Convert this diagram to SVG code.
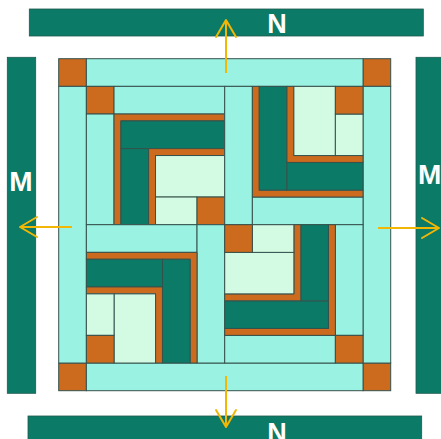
<svg xmlns="http://www.w3.org/2000/svg" xmlns:xlink="http://www.w3.org/1999/xlink" width="441" height="439" viewBox="0 0 441 439">
<style>
.c{fill:#9af2e2;stroke:#35524c;stroke-width:1}
.b{fill:#cc6a1e;stroke:#35524c;stroke-width:1}
.t{fill:#0b7a67;stroke:#35524c;stroke-width:1}
.m{fill:#d3fbe3;stroke:#35524c;stroke-width:1}
.strip{fill:#0b7a67;stroke:#1f5a4f;stroke-width:0.8}
.lbl{font-family:"Liberation Sans",Arial,sans-serif;font-weight:bold;fill:#ffffff}
.arr{stroke:#f2b705;stroke-width:2;fill:none;marker-end:url(#ah)}
</style>
<defs>
<marker id="ah" markerUnits="userSpaceOnUse" viewBox="-20 -12 22 24" markerWidth="22" markerHeight="24" refX="0" refY="0" orient="auto" overflow="visible">
<path d="M-17,-10 L0,0 L-17,10" fill="none" stroke="#f2b705" stroke-width="2" stroke-linecap="round" stroke-linejoin="round"/>
</marker>
<g id="cabin">
<polygon class="b" points="0,0 110.67,0 110.67,6.9 6.9,6.9 6.9,110.67 0,110.67"/>
<rect class="t" x="6.9" y="6.9" width="103.77" height="27.68"/>
<rect class="t" x="6.9" y="34.58" width="27.68" height="76.09"/>
<polygon class="b" points="34.58,34.58 110.67,34.58 110.67,41.5 41.5,41.5 41.5,110.67 34.58,110.67"/>
<rect class="m" x="41.5" y="41.5" width="69.17" height="41.5"/>
<rect class="m" x="41.5" y="83" width="41.5" height="27.67"/>
<rect class="b" x="83" y="83" width="27.67" height="27.67"/>
</g>
</defs>

<g id="strip-n-top"><rect class="strip" x="29.3" y="9" width="394" height="27"/><text class="lbl" x="277" y="33" font-size="27" text-anchor="middle">N</text></g>
<g id="strip-n-bottom"><rect class="strip" x="28" y="416" width="393.7" height="30"/><text class="lbl" x="277" y="442" font-size="27" text-anchor="middle">N</text></g>
<g id="strip-m-left"><rect class="strip" x="7.3" y="57.3" width="28.4" height="336"/><text class="lbl" x="21" y="191" font-size="28" text-anchor="middle">M</text></g>
<g id="strip-m-right"><rect class="strip" x="416" y="57.3" width="30" height="336"/><text class="lbl" x="418" y="183.5" font-size="28">M</text></g>

<g id="frame">
<rect class="b" x="58.7" y="58.7" width="27.67" height="27.67"/>
<rect class="b" x="363.03" y="58.7" width="27.67" height="27.67"/>
<rect class="b" x="58.7" y="363.03" width="27.67" height="27.67"/>
<rect class="b" x="363.03" y="363.03" width="27.67" height="27.67"/>
<rect class="c" x="86.37" y="58.7" width="276.66" height="27.67"/>
<rect class="c" x="86.37" y="363.03" width="276.66" height="27.67"/>
<rect class="c" x="58.7" y="86.37" width="27.67" height="276.66"/>
<rect class="c" x="363.03" y="86.37" width="27.67" height="276.66"/>
</g>

<g id="block-tl">
<rect class="b" x="86.37" y="86.37" width="27.66" height="27.66"/>
<rect class="c" x="114.03" y="86.37" width="110.67" height="27.66"/>
<rect class="c" x="86.37" y="114.03" width="27.66" height="110.67"/>
<use xlink:href="#cabin" transform="translate(114.03,114.03)"/>
</g>

<g id="block-tr">
<rect class="c" x="224.7" y="86.37" width="27.67" height="138.33"/>
<rect class="c" x="252.37" y="197.03" width="110.66" height="27.67"/>
<use xlink:href="#cabin" transform="translate(252.37,197.04) rotate(-90)"/>
</g>

<g id="block-bl">
<rect class="c" x="86.37" y="224.7" width="110.66" height="27.67"/>
<rect class="c" x="197.03" y="224.7" width="27.67" height="138.33"/>
<use xlink:href="#cabin" transform="translate(197.04,252.37) rotate(90)"/>
</g>

<g id="block-br">
<rect class="c" x="335.37" y="224.7" width="27.66" height="110.67"/>
<rect class="c" x="224.7" y="335.37" width="110.67" height="27.66"/>
<rect class="b" x="335.37" y="335.37" width="27.66" height="27.66"/>
<use xlink:href="#cabin" transform="translate(335.37,335.37) rotate(180)"/>
</g>

<g id="connectors">
<path class="arr" d="M226,73 L226,20"/>
<path class="arr" d="M226,376 L226,427"/>
<path class="arr" d="M72,227 L20,227"/>
<path class="arr" d="M378,228 L439,228"/>
</g>
</svg>
